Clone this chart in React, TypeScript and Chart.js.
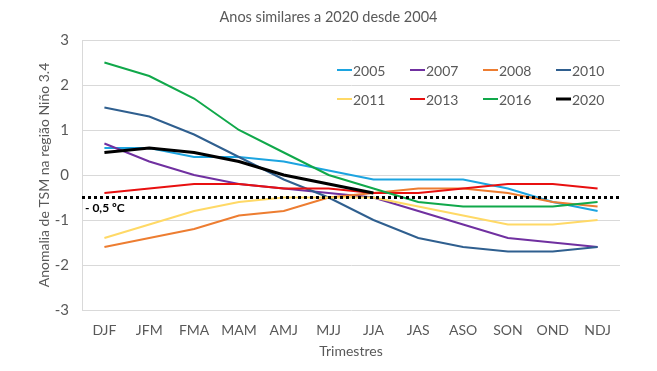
import { useEffect, useRef } from 'react';
import { Chart, registerables } from 'chart.js';

Chart.register(...registerables);

const trimestres = ['DJF', 'JFM', 'FMA', 'MAM', 'AMJ', 'MJJ', 'JJA', 'JAS', 'ASO', 'SON', 'OND', 'NDJ'];
const anos = ['2005', '2007', '2008', '2010', '2011', '2013', '2016', '2020'];

const v2005 = [0.6, 0.6, 0.4, 0.4, 0.3, 0.1, -0.1, -0.1, -0.1, -0.3, -0.6, -0.8];
const v2007 = [0.7, 0.3, 0.0, -0.2, -0.3, -0.4, -0.5, -0.8, -1.1, -1.4, -1.5, -1.6];
const v2008 = [-1.6, -1.4, -1.2, -0.9, -0.8, -0.5, -0.4, -0.3, -0.3, -0.4, -0.6, -0.7];
const v2010 = [1.5, 1.3, 0.9, 0.4, -0.1, -0.5, -1.0, -1.4, -1.6, -1.7, -1.7, -1.6];
const v2011 = [-1.4, -1.1, -0.8, -0.6, -0.5, -0.5, -0.5, -0.7, -0.9, -1.1, -1.1, -1.0];
const v2013 = [-0.4, -0.3, -0.2, -0.2, -0.3, -0.3, -0.4, -0.4, -0.3, -0.2, -0.2, -0.3];
const v2016 = [2.5, 2.2, 1.7, 1.0, 0.5, 0.0, -0.3, -0.6, -0.7, -0.7, -0.7, -0.6];
const v2020 = [0.5, 0.6, 0.5, 0.3, 0.0, -0.2, -0.4, null, null, null, null, null];

const series = [v2005, v2007, v2008, v2010, v2011, v2013, v2016, v2020];
const limiar = -0.5;
const limiarTexto = '- 0,5 ºC';
const tituloTexto = 'Anos similares a 2020 desde 2004';

const cores = ['#1CA4E0', '#7030A0', '#ED7D31', '#2F5F8F', '#FFD966', '#E81010', '#10A84A', '#000000'];
const larguras = [2, 2, 2, 2, 2, 2, 2, 3];

const FONT = 'Lato, "Open Sans", sans-serif';
const GRAY = '#595959';

const overlayPlugin = {
  id: 'overlay',
  afterDatasetsDraw(chart: any) {
    const { ctx, chartArea, scales, width } = chart;
    const y = scales.y.getPixelForValue(limiar);
    ctx.save();
    ctx.strokeStyle = '#000';
    ctx.lineWidth = 3;
    ctx.setLineDash([3, 3]);
    ctx.beginPath();
    ctx.moveTo(chartArea.left, y);
    ctx.lineTo(chartArea.right, y);
    ctx.stroke();
    ctx.setLineDash([]);
    ctx.fillStyle = '#000';
    ctx.font = 'bold 12px ' + FONT;
    ctx.textBaseline = 'middle';
    ctx.textAlign = 'left';
    ctx.fillText(limiarTexto, chartArea.left + 3, y + 11);

    // title centred on the full canvas
    ctx.font = '14.5px ' + FONT;
    ctx.fillStyle = GRAY;
    ctx.textAlign = 'center';
    ctx.fillText(tituloTexto, width / 2, 17);

    // legend (2 rows x 4 columns) inside plot area
    ctx.textAlign = 'left';
    ctx.font = '14px ' + FONT;
    const x0 = 337;
    const colW = 73;
    const rows = [70, 99];
    anos.forEach((a, i) => {
      const col = i % 4;
      const row = Math.floor(i / 4);
      const lx = x0 + col * colW;
      const ly = rows[row];
      ctx.strokeStyle = cores[i];
      ctx.lineWidth = larguras[i];
      ctx.beginPath();
      ctx.moveTo(lx, ly);
      ctx.lineTo(lx + 15, ly);
      ctx.stroke();
      ctx.fillStyle = GRAY;
      ctx.fillText(a, lx + 16, ly + 1);
    });
    ctx.restore();
  },
};

export default function App() {
  const ref = useRef<HTMLCanvasElement>(null);
  useEffect(() => {
    document.body.style.margin = '0';
    const chart = new Chart(ref.current!, {
      type: 'line',
      data: {
        labels: trimestres,
        datasets: series.map((d, i) => ({
          label: anos[i],
          data: d,
          borderColor: cores[i],
          backgroundColor: cores[i],
          borderWidth: larguras[i],
          pointRadius: 0,
          tension: 0,
          order: series.length - i,
          spanGaps: false,
        })),
      },
      options: {
        animation: false,
        responsive: false,
        maintainAspectRatio: false,
        layout: { padding: { left: 0, right: 37, top: 40, bottom: 0 } },
        plugins: {
          legend: { display: false },
          tooltip: { enabled: false },
          title: { display: false },
        },
        scales: {
          x: {
            offset: true,
            grid: { display: false, drawTicks: false },
            border: { display: false },
            ticks: { color: GRAY, font: { family: FONT, size: 14 }, padding: 12, maxRotation: 0, autoSkip: false },
            title: {
              display: true,
              text: 'Trimestres',
              color: GRAY,
              font: { family: FONT, size: 14 },
              padding: { top: 0, bottom: 11 },
            },
            afterFit: (s: any) => { s.height = 61; },
          },
          y: {
            min: -3,
            max: 3,
            ticks: { stepSize: 1, color: GRAY, font: { family: FONT, size: 15 }, padding: 13 },
            grid: { color: '#D9D9D9', lineWidth: 1, drawTicks: false },
            border: { display: true, color: '#D9D9D9' },
            title: {
              display: true,
              text: 'Anomalia de TSM na região Niño 3.4',
              color: GRAY,
              font: { family: FONT, size: 14 },
              padding: { top: 36, bottom: 0 },
            },
            afterFit: (s: any) => { s.width = 82; },
          },
        },
      },
      plugins: [overlayPlugin],
    });
    return () => chart.destroy();
  }, []);
  return (
    <div style={{ width: 657, height: 371, background: '#fff' }}>
      <canvas ref={ref} width={657} height={371} />
    </div>
  );
}
